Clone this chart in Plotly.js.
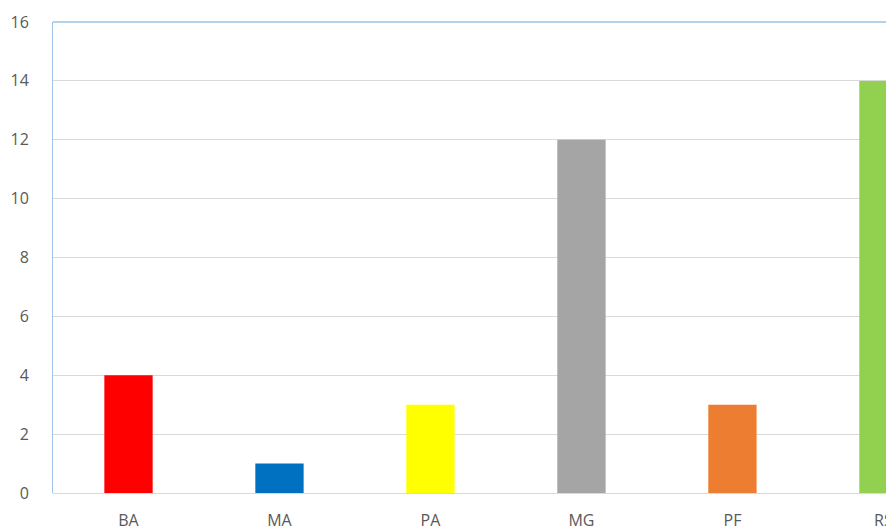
<!DOCTYPE html>
<html>
<head>
<meta charset="utf-8">
<script src="https://cdn.plot.ly/plotly-3.0.1.min.js"></script>
<style>html,body{margin:0;padding:0;background:#fff;}#chart{width:886px;height:526px;}</style>
</head>
<body>
<div id="chart"></div>
<script>
const categories = ["BA", "MA", "PA", "MG", "PF", "RS"];
const values = [4, 1, 3, 12, 3, 14];
const barColors = ["#FF0000", "#0070C0", "#FFFF00", "#A5A5A5", "#ED7D31", "#92D050"];
const yTicks = [0, 2, 4, 6, 8, 10, 12, 14, 16];

const trace = {
  type: "bar",
  x: categories,
  y: values,
  marker: { color: barColors, line: { width: 0 } },
  hoverinfo: "x+y"
};

const layout = {
  width: 886,
  height: 526,
  margin: { l: 53, r: 0, t: 22, b: 33 },
  paper_bgcolor: "#ffffff",
  plot_bgcolor: "#ffffff",
  showlegend: false,
  bargap: 0.68,
  font: { family: "Open Sans, Liberation Sans, sans-serif", color: "#595959", size: 16 },
  xaxis: {
    type: "category",
    range: [-0.5, 5.017],
    showgrid: false,
    zeroline: false,
    showline: false,
    ticks: "outside",
    ticklen: 13,
    tickcolor: "rgba(0,0,0,0)",
    tickfont: { size: 16, color: "#595959" }
  },
  yaxis: {
    range: [0, 16],
    tickvals: yTicks,
    ticktext: yTicks.map(String),
    showgrid: true,
    gridcolor: "#D9D9D9",
    gridwidth: 1,
    zeroline: true,
    zerolinecolor: "#D9D9D9",
    zerolinewidth: 1,
    showline: true,
    linecolor: "#9DC3E6",
    linewidth: 1,
    ticks: "",
    ticklabelstandoff: 20,
    tickfont: { size: 16, color: "#595959" }
  },
  shapes: [
    { type: "line", xref: "paper", yref: "paper", x0: 0, x1: 1, y0: 1, y1: 1,
      line: { color: "#9DC3E6", width: 1.5 } }
  ]
};

Plotly.newPlot("chart", [trace], layout, { displayModeBar: false, staticPlot: true });
</script>
</body>
</html>
